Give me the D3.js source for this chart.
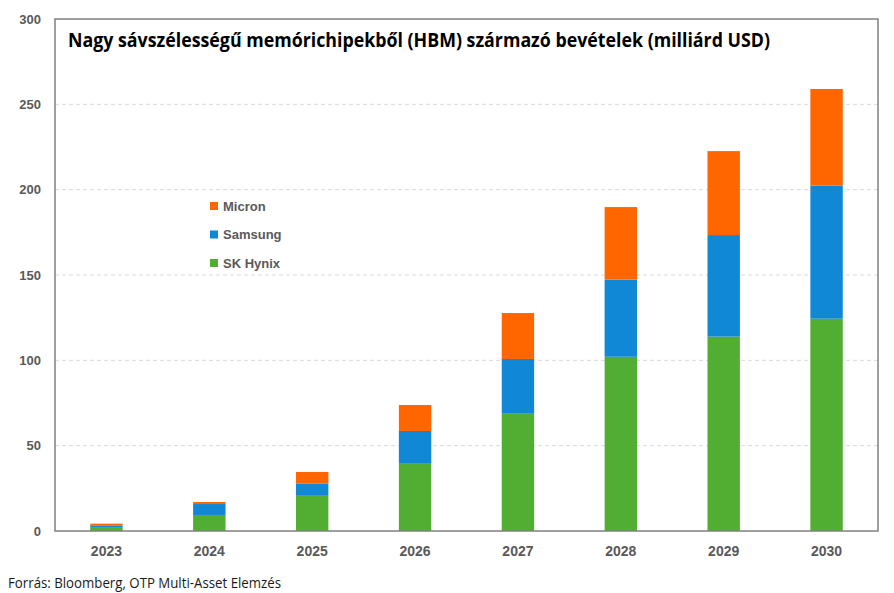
<!DOCTYPE html>
<html lang="hu">
<head>
  <meta charset="UTF-8">
  <title>HBM bevételek</title>
  <script src="https://d3js.org/d3.v7.min.js"></script>
  <style>
    body { margin: 0; background: #fff; }
    svg { display: block; }
  </style>
</head>
<body>
  <svg width="894" height="593"></svg>

  <script>
    // data (billion USD)
    const years = ["2023", "2024", "2025", "2026", "2027", "2028", "2029", "2030"];
    const skHynix = [2.3, 9.4, 21.1, 39.4, 68.7, 102.1, 113.9, 124.4];
    const samsung = [1.0, 6.4, 6.6, 19.2, 32.1, 45.2, 59.5, 77.9];
    const micron = [1.0, 1.2, 6.9, 15.2, 26.9, 42.5, 49.2, 56.7];
    const yTicks = [0, 50, 100, 150, 200, 250, 300];

    const seriesNames = ["SK Hynix", "Samsung", "Micron"];
    const colors = { "SK Hynix": "#52AE32", "Samsung": "#1088D6", "Micron": "#FF6600" };

    const svg = d3.select("svg");
    const margin = { left: 55, right: 16, top: 19, bottom: 62 };
    const width = +svg.attr("width"), height = +svg.attr("height");

    const x = d3.scaleBand()
        .domain(years)
        .range([margin.left, width - margin.right])
        .paddingInner(0.685)
        .paddingOuter(0.3425);

    const y = d3.scaleLinear()
        .domain([0, 300])
        .range([height - margin.bottom, margin.top]);

    // table for the stack
    const rows = years.map((yr, i) => ({
      year: yr, "SK Hynix": skHynix[i], "Samsung": samsung[i], "Micron": micron[i]
    }));
    const stacked = d3.stack().keys(seriesNames)(rows);

    // dashed gridlines
    svg.append("g")
        .selectAll("line")
        .data(yTicks.filter(t => t > 0 && t < 300))
        .enter().append("line")
        .attr("x1", margin.left)
        .attr("x2", width - margin.right)
        .attr("y1", d => y(d))
        .attr("y2", d => y(d))
        .attr("stroke", "#d9d9d9")
        .attr("stroke-width", 1)
        .attr("stroke-dasharray", "4,3");

    // bars
    svg.append("g")
        .selectAll("g")
        .data(stacked)
        .enter().append("g")
        .attr("fill", d => colors[d.key])
        .selectAll("rect")
        .data(d => d)
        .enter().append("rect")
        .attr("x", d => x(d.data.year))
        .attr("width", x.bandwidth())
        .attr("y", d => y(d[1]))
        .attr("height", d => y(d[0]) - y(d[1]));

    // plot frame
    svg.append("rect")
        .attr("x", margin.left)
        .attr("y", margin.top)
        .attr("width", width - margin.left - margin.right)
        .attr("height", height - margin.top - margin.bottom)
        .attr("fill", "none")
        .attr("stroke", "#808080")
        .attr("stroke-width", 1.5);

    // y axis labels
    const yAxis = d3.axisLeft(y).tickValues(yTicks).tickSize(0).tickPadding(14);
    svg.append("g")
        .attr("transform", `translate(${margin.left},0)`)
        .call(yAxis)
        .call(g => g.select(".domain").remove())
        .selectAll("text")
        .attr("fill", "#595959")
        .style("font", "bold 13px 'Liberation Sans', Arial, sans-serif");

    // x axis labels
    const xAxis = d3.axisBottom(x).tickSize(0).tickPadding(15);
    svg.append("g")
        .attr("transform", `translate(0,${height - margin.bottom})`)
        .call(xAxis)
        .call(g => g.select(".domain").remove())
        .selectAll("text")
        .attr("fill", "#595959")
        .style("font", "bold 14px 'Liberation Sans', Arial, sans-serif");

    // title
    svg.append("text")
        .attr("x", 68)
        .attr("y", 47)
        .attr("textLength", 702)
        .attr("lengthAdjust", "spacingAndGlyphs")
        .attr("fill", "#000")
        .style("font", "bold 20px 'Open Sans', 'Liberation Sans', sans-serif")
        .text("Nagy sávszélességű memórichipekből (HBM) származó bevételek (milliárd USD)");

    // legend
    const legendItems = ["Micron", "Samsung", "SK Hynix"];
    const legend = svg.append("g")
        .selectAll("g")
        .data(legendItems)
        .enter().append("g")
        .attr("transform", (d, i) => `translate(210,${206 + i * 28.5})`);

    legend.append("rect")
        .attr("x", 0)
        .attr("y", -4)
        .attr("width", 8)
        .attr("height", 8)
        .attr("fill", d => colors[d]);

    legend.append("text")
        .attr("x", 13)
        .attr("dy", "0.35em")
        .attr("fill", "#595959")
        .style("font", "bold 13px 'Liberation Sans', Arial, sans-serif")
        .text(d => d);

    // source note
    svg.append("text")
        .attr("x", 8)
        .attr("y", 588)
        .attr("textLength", 273)
        .attr("lengthAdjust", "spacingAndGlyphs")
        .attr("fill", "#1a1a1a")
        .style("font", "14px 'Open Sans', 'Liberation Sans', sans-serif")
        .text("Forrás: Bloomberg, OTP Multi-Asset Elemzés");
  </script>
</body>
</html>
